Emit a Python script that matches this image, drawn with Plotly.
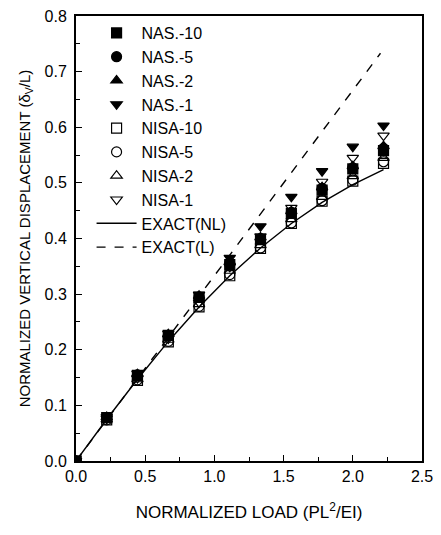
import plotly.graph_objects as go

load = [0.0, 0.222, 0.444, 0.667, 0.889, 1.111, 1.333, 1.556, 1.778, 2.0, 2.222]

nas10 = [0.0, 0.078, 0.154, 0.226, 0.294, 0.353, 0.398, 0.445, 0.487, 0.525, 0.558]
nas5 = [0.0, 0.078, 0.155, 0.226, 0.295, 0.355, 0.400, 0.447, 0.490, 0.527, 0.562]
nas2 = [0.0, 0.079, 0.156, 0.228, 0.297, 0.358, 0.402, 0.449, 0.492, 0.530, 0.566]
nas1 = [0.0, 0.079, 0.157, 0.229, 0.299, 0.365, 0.422, 0.475, 0.521, 0.565, 0.603]
nisa10 = [0.0, 0.074, 0.145, 0.214, 0.277, 0.333, 0.382, 0.427, 0.467, 0.503, 0.535]
nisa5 = [0.0, 0.074, 0.146, 0.215, 0.278, 0.335, 0.383, 0.428, 0.468, 0.505, 0.538]
nisa2 = [0.0, 0.075, 0.147, 0.218, 0.282, 0.342, 0.388, 0.435, 0.475, 0.512, 0.545]
nisa1 = [0.0, 0.076, 0.149, 0.220, 0.285, 0.349, 0.404, 0.455, 0.502, 0.545, 0.585]

exact_nl = [0.0, 0.075, 0.147, 0.215, 0.277, 0.333, 0.383, 0.427, 0.465, 0.497, 0.524]
exact_l_x = [0.0, 2.2]
exact_l_y = [0.0, 0.733]

series = [
    ("NAS.-10", nas10, "square"),
    ("NAS.-5", nas5, "circle"),
    ("NAS.-2", nas2, "triangle-up"),
    ("NAS.-1", nas1, "triangle-down"),
    ("NISA-10", nisa10, "square-open"),
    ("NISA-5", nisa5, "circle-open"),
    ("NISA-2", nisa2, "triangle-up-open"),
    ("NISA-1", nisa1, "triangle-down-open"),
]

fig = go.Figure()
for name, vals, sym in series:
    fig.add_trace(go.Scatter(
        x=load, y=vals, mode="markers", name=name,
        marker=dict(symbol=sym, size=10, color="black",
                    line=dict(color="black", width=1.2)),
    ))

fig.add_trace(go.Scatter(x=load, y=exact_nl, mode="lines", name="EXACT(NL)",
                         line=dict(color="black", width=1.4)))
fig.add_trace(go.Scatter(x=exact_l_x, y=exact_l_y, mode="lines", name="EXACT(L)",
                         line=dict(color="black", width=1.4, dash="dash")))

font_family = "Liberation Sans, Arial, sans-serif"

fig.update_layout(
    width=441, height=535,
    margin=dict(l=76, r=12, t=8, b=74),
    paper_bgcolor="white", plot_bgcolor="white",
    font=dict(family=font_family, size=16, color="black"),
    showlegend=True,
    legend=dict(x=0.045, y=1.0, xanchor="left", yanchor="top",
                bgcolor="rgba(0,0,0,0)", font=dict(size=16),
                tracegroupgap=0, itemwidth=40),
)

axis_common = dict(
    showgrid=False, zeroline=False, showline=True, linecolor="black",
    linewidth=2, mirror=True, ticks="inside", ticklen=6, tickwidth=1.2,
    tickcolor="black", tickfont=dict(size=16),
)

fig.update_xaxes(
    range=[0, 2.5], dtick=0.5, tickformat=".1f",
    minor=dict(ticks="inside", dtick=0.25, ticklen=4, tickcolor="black"),
    title=dict(text="NORMALIZED LOAD (PL<sup>2</sup>/EI)", standoff=22,
               font=dict(size=17)),
    **axis_common,
)
fig.update_yaxes(
    range=[0, 0.8], dtick=0.1, tickformat=".1f", ticklabelstandoff=4,
    minor=dict(ticks="inside", dtick=0.05, ticklen=4, tickcolor="black"),
    title=dict(text="NORMALIZED VERTICAL DISPLACEMENT (δ<sub>V</sub>/L)", standoff=10,
               font=dict(size=15)),
    **axis_common,
)

fig.write_html("out.html")
